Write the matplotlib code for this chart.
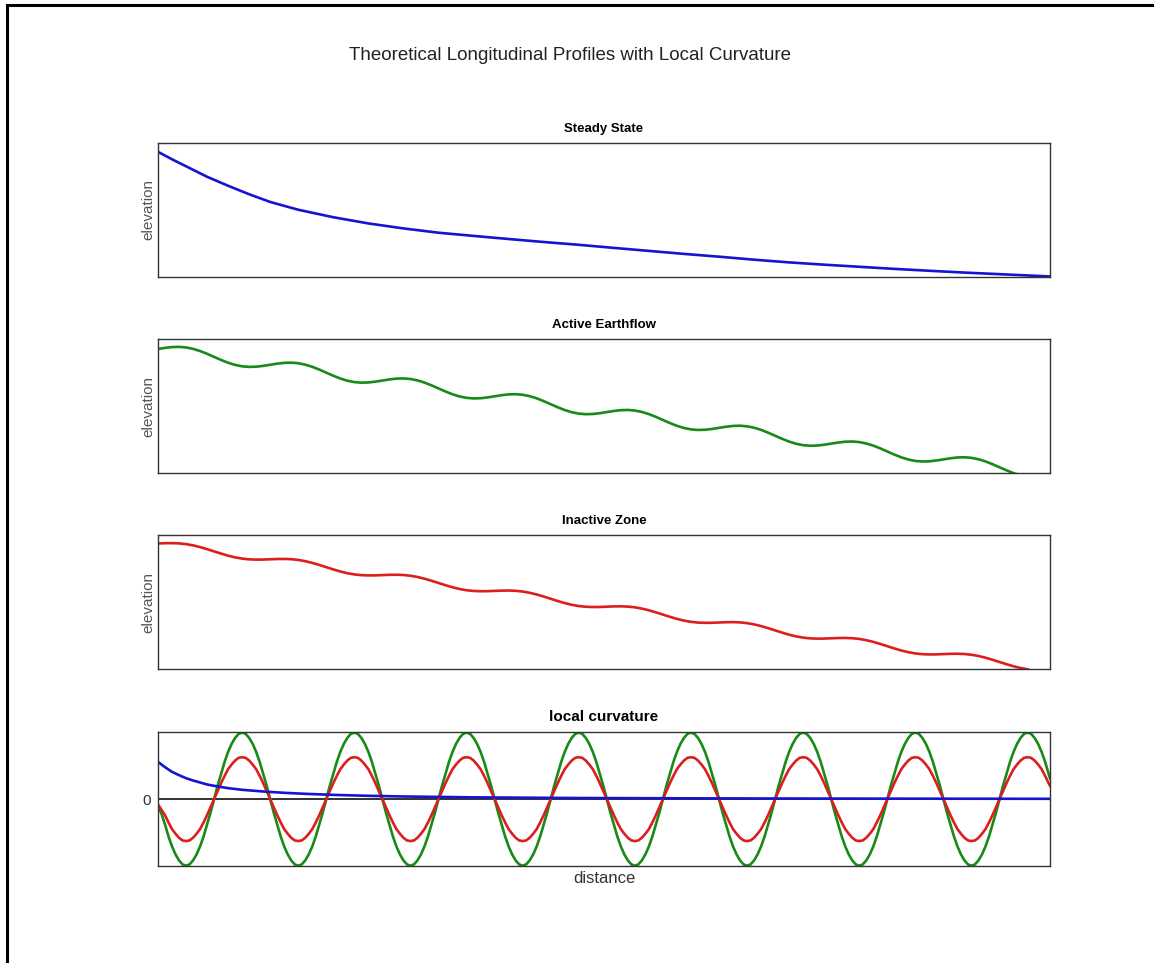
import matplotlib
matplotlib.use('Agg')
import matplotlib.pyplot as plt
from matplotlib.patches import Rectangle

plt.rcParams['font.family'] = ['Liberation Sans', 'DejaVu Sans']

# distance readings
dist_fine = [i * 0.5 for i in range(255)] + [127.2]   # curvature grid
dist_unit = list(range(123))                          # elevation grid

# steady state elevation
steady_x = [0, 2, 4, 7, 10, 13, 16, 20, 25, 30, 35, 40, 45, 50, 55, 60, 65, 70,
            75, 80, 85, 90, 95, 100, 105, 110, 115, 120, 127.2]
steady_z = [125.0, 117.5, 110.5, 100.0, 91.0, 82.5, 74.8, 67.0, 59.5, 53.3, 48.3,
            44.0, 40.8, 37.7, 34.7, 31.9, 28.8, 25.8, 22.8, 20.0, 17.0, 14.3, 12.0,
            9.9, 7.8, 5.9, 4.1, 2.5, 0.2]

# active earthflow elevation
active_x = dist_unit + [122.6]
active_z = [124.45, 125.56, 126.36, 126.57,
            126.00, 124.59, 122.42, 119.64, 116.55, 113.47, 110.69, 108.51,
            107.11, 106.54, 106.74, 107.55, 108.66, 109.77, 110.58, 110.78,
            110.21, 108.80, 106.63, 103.85, 100.76, 97.68, 94.90, 92.72,
            91.32, 90.75, 90.95, 91.76, 92.87, 93.98, 94.79, 94.99,
            94.43, 93.02, 90.85, 88.07, 84.98, 81.90, 79.12, 76.94,
            75.54, 74.97, 75.17, 75.98, 77.09, 78.20, 79.01, 79.21,
            78.64, 77.23, 75.06, 72.28, 69.19, 66.11, 63.33, 61.15,
            59.75, 59.18, 59.38, 60.19, 61.30, 62.41, 63.22, 63.42,
            62.85, 61.44, 59.27, 56.49, 53.40, 50.32, 47.54, 45.36,
            43.96, 43.39, 43.59, 44.40, 45.51, 46.62, 47.43, 47.63,
            47.06, 45.65, 43.48, 40.70, 37.61, 34.53, 31.75, 29.57,
            28.17, 27.60, 27.80, 28.61, 29.72, 30.83, 31.64, 31.84,
            31.28, 29.87, 27.70, 24.92, 21.83, 18.75, 15.97, 13.79,
            12.39, 11.82, 12.02, 12.83, 13.94, 15.05, 15.86, 16.06,
            15.49, 14.08, 11.91, 9.13, 6.04, 2.96, 0.18,
            -1.2]

# inactive zone elevation
inactive_x = list(range(125))
inactive_z = [125.66, 125.93, 126.01, 125.74,
              125.00, 123.76, 122.05, 119.99, 117.75, 115.50, 113.44, 111.73,
              110.49, 109.75, 109.48, 109.56, 109.83, 110.11, 110.19, 109.92,
              109.18, 107.94, 106.23, 104.17, 101.93, 99.68, 97.62, 95.91,
              94.67, 93.93, 93.66, 93.74, 94.01, 94.29, 94.37, 94.10,
              93.36, 92.12, 90.41, 88.35, 86.11, 83.86, 81.80, 80.09,
              78.85, 78.11, 77.84, 77.92, 78.19, 78.47, 78.55, 78.28,
              77.54, 76.30, 74.59, 72.53, 70.29, 68.04, 65.98, 64.27,
              63.03, 62.29, 62.02, 62.10, 62.37, 62.65, 62.73, 62.46,
              61.72, 60.48, 58.77, 56.71, 54.47, 52.22, 50.16, 48.45,
              47.21, 46.47, 46.20, 46.28, 46.55, 46.83, 46.91, 46.64,
              45.90, 44.66, 42.95, 40.89, 38.65, 36.40, 34.34, 32.63,
              31.39, 30.65, 30.38, 30.46, 30.73, 31.01, 31.09, 30.82,
              30.08, 28.84, 27.13, 25.07, 22.83, 20.58, 18.52, 16.81,
              15.57, 14.83, 14.56, 14.64, 14.91, 15.19, 15.27, 15.00,
              14.26, 13.02, 11.31, 9.25, 7.01, 4.76, 2.70, 0.99, -0.25]

# local curvature
curv_steady_x = [0, 1, 2, 3, 4, 5, 6, 7, 8, 10, 12, 15, 18, 21, 25, 30, 35, 45,
                 60, 80, 100, 127.2]
curv_steady = [0.56, 0.48, 0.41, 0.36, 0.315, 0.28, 0.25, 0.22, 0.2, 0.165, 0.14,
               0.115, 0.095, 0.08, 0.064, 0.05, 0.04, 0.027, 0.017, 0.011, 0.008,
               0.005]

curv_active = [
    -0.10, -0.22, -0.38, -0.56, -0.71, -0.83, -0.92, -0.98,
    -1, -0.98, -0.92, -0.83, -0.71, -0.56, -0.38, -0.20, 0, 0.20, 0.38, 0.56, 0.71, 0.83, 0.92, 0.98,
    1, 0.98, 0.92, 0.83, 0.71, 0.56, 0.38, 0.20, 0, -0.20, -0.38, -0.56, -0.71, -0.83, -0.92, -0.98,
    -1, -0.98, -0.92, -0.83, -0.71, -0.56, -0.38, -0.20, 0, 0.20, 0.38, 0.56, 0.71, 0.83, 0.92, 0.98,
    1, 0.98, 0.92, 0.83, 0.71, 0.56, 0.38, 0.20, 0, -0.20, -0.38, -0.56, -0.71, -0.83, -0.92, -0.98,
    -1, -0.98, -0.92, -0.83, -0.71, -0.56, -0.38, -0.20, 0, 0.20, 0.38, 0.56, 0.71, 0.83, 0.92, 0.98,
    1, 0.98, 0.92, 0.83, 0.71, 0.56, 0.38, 0.20, 0, -0.20, -0.38, -0.56, -0.71, -0.83, -0.92, -0.98,
    -1, -0.98, -0.92, -0.83, -0.71, -0.56, -0.38, -0.20, 0, 0.20, 0.38, 0.56, 0.71, 0.83, 0.92, 0.98,
    1, 0.98, 0.92, 0.83, 0.71, 0.56, 0.38, 0.20, 0, -0.20, -0.38, -0.56, -0.71, -0.83, -0.92, -0.98,
    -1, -0.98, -0.92, -0.83, -0.71, -0.56, -0.38, -0.20, 0, 0.20, 0.38, 0.56, 0.71, 0.83, 0.92, 0.98,
    1, 0.98, 0.92, 0.83, 0.71, 0.56, 0.38, 0.20, 0, -0.20, -0.38, -0.56, -0.71, -0.83, -0.92, -0.98,
    -1, -0.98, -0.92, -0.83, -0.71, -0.56, -0.38, -0.20, 0, 0.20, 0.38, 0.56, 0.71, 0.83, 0.92, 0.98,
    1, 0.98, 0.92, 0.83, 0.71, 0.56, 0.38, 0.20, 0, -0.20, -0.38, -0.56, -0.71, -0.83, -0.92, -0.98,
    -1, -0.98, -0.92, -0.83, -0.71, -0.56, -0.38, -0.20, 0, 0.20, 0.38, 0.56, 0.71, 0.83, 0.92, 0.98,
    1, 0.98, 0.92, 0.83, 0.71, 0.56, 0.38, 0.20, 0, -0.20, -0.38, -0.56, -0.71, -0.83, -0.92, -0.98,
    -1, -0.98, -0.92, -0.83, -0.71, -0.56, -0.38, -0.20, 0, 0.20, 0.38, 0.56, 0.71, 0.83, 0.92, 0.98,
    1, 0.98, 0.92, 0.83, 0.71, 0.56, 0.38,
    0.31]

curv_inactive = [
    -0.08, -0.16, -0.24, -0.35, -0.45, -0.52, -0.58, -0.62,
    -0.63, -0.62, -0.58, -0.52, -0.45, -0.35, -0.24, -0.12, 0, 0.12, 0.24, 0.35, 0.45, 0.52, 0.58, 0.62,
    0.63, 0.62, 0.58, 0.52, 0.45, 0.35, 0.24, 0.12, 0, -0.12, -0.24, -0.35, -0.45, -0.52, -0.58, -0.62,
    -0.63, -0.62, -0.58, -0.52, -0.45, -0.35, -0.24, -0.12, 0, 0.12, 0.24, 0.35, 0.45, 0.52, 0.58, 0.62,
    0.63, 0.62, 0.58, 0.52, 0.45, 0.35, 0.24, 0.12, 0, -0.12, -0.24, -0.35, -0.45, -0.52, -0.58, -0.62,
    -0.63, -0.62, -0.58, -0.52, -0.45, -0.35, -0.24, -0.12, 0, 0.12, 0.24, 0.35, 0.45, 0.52, 0.58, 0.62,
    0.63, 0.62, 0.58, 0.52, 0.45, 0.35, 0.24, 0.12, 0, -0.12, -0.24, -0.35, -0.45, -0.52, -0.58, -0.62,
    -0.63, -0.62, -0.58, -0.52, -0.45, -0.35, -0.24, -0.12, 0, 0.12, 0.24, 0.35, 0.45, 0.52, 0.58, 0.62,
    0.63, 0.62, 0.58, 0.52, 0.45, 0.35, 0.24, 0.12, 0, -0.12, -0.24, -0.35, -0.45, -0.52, -0.58, -0.62,
    -0.63, -0.62, -0.58, -0.52, -0.45, -0.35, -0.24, -0.12, 0, 0.12, 0.24, 0.35, 0.45, 0.52, 0.58, 0.62,
    0.63, 0.62, 0.58, 0.52, 0.45, 0.35, 0.24, 0.12, 0, -0.12, -0.24, -0.35, -0.45, -0.52, -0.58, -0.62,
    -0.63, -0.62, -0.58, -0.52, -0.45, -0.35, -0.24, -0.12, 0, 0.12, 0.24, 0.35, 0.45, 0.52, 0.58, 0.62,
    0.63, 0.62, 0.58, 0.52, 0.45, 0.35, 0.24, 0.12, 0, -0.12, -0.24, -0.35, -0.45, -0.52, -0.58, -0.62,
    -0.63, -0.62, -0.58, -0.52, -0.45, -0.35, -0.24, -0.12, 0, 0.12, 0.24, 0.35, 0.45, 0.52, 0.58, 0.62,
    0.63, 0.62, 0.58, 0.52, 0.45, 0.35, 0.24, 0.12, 0, -0.12, -0.24, -0.35, -0.45, -0.52, -0.58, -0.62,
    -0.63, -0.62, -0.58, -0.52, -0.45, -0.35, -0.24, -0.12, 0, 0.12, 0.24, 0.35, 0.45, 0.52, 0.58, 0.62,
    0.63, 0.62, 0.58, 0.52, 0.45, 0.35, 0.24,
    0.20]

blue = '#1414d2'
green = '#178a17'
red = '#dc1e1e'
spine_c = '#333333'
lw = 1.9

fig = plt.figure(figsize=(11.54, 9.63), dpi=100)
fig.patch.set_facecolor('white')

left, width, height = 0.1369, 0.773, 0.139
bottoms = [0.7127, 0.5085, 0.3053, 0.1010]
titles = ['Steady State', 'Active Earthflow', 'Inactive Zone']
profiles = [(steady_x, steady_z, blue),
            (active_x, active_z, green),
            (inactive_x, inactive_z, red)]

for i in range(3):
    ax = fig.add_axes([left, bottoms[i], width, height])
    px, pz, c = profiles[i]
    ax.plot(px, pz, color=c, lw=lw)
    ax.set_xlim(0, 127.2)
    ax.set_ylim(0, 134)
    ax.set_xticks([])
    ax.set_yticks([])
    ax.set_ylabel('elevation', fontsize=11, color='#555555', labelpad=2)
    ax.set_title(titles[i], fontsize=9.5, fontweight='bold', pad=8)
    for s in ax.spines.values():
        s.set_color(spine_c)
        s.set_linewidth(1.0)

ax = fig.add_axes([left, bottoms[3], width, height])
ax.axhline(0, color='#222222', lw=1.3)
ax.plot(dist_fine, curv_active, color=green, lw=lw)
ax.plot(dist_fine, curv_inactive, color=red, lw=lw)
ax.plot(curv_steady_x, curv_steady, color=blue, lw=lw)
ax.set_xlim(0, 127.2)
ax.set_ylim(-1.0, 1.01)
ax.set_xticks([])
ax.set_yticks([0])
ax.tick_params(axis='y', length=0, pad=5, labelsize=11, labelcolor='#333333')
ax.set_xlabel('distance', fontsize=12, color='#333333', labelpad=4)
ax.set_title('local curvature', fontsize=11, fontweight='bold', pad=8)
for s in ax.spines.values():
    s.set_color(spine_c)
    s.set_linewidth(1.0)

fig.text(570 / 1154, 1 - 56 / 963,
         'Theoretical Longitudinal Profiles with Local Curvature',
         ha='center', va='center', fontsize=13.5, color='#222222')

# frame around the figure (only top and left edges show)
fig.add_artist(Rectangle((7 / 1154, -0.1), 1.2, 1.1 - 5 / 963,
                         transform=fig.transFigure, fill=False,
                         edgecolor='black', lw=2.2, clip_on=False))

fig.savefig('out.png', dpi=100)
